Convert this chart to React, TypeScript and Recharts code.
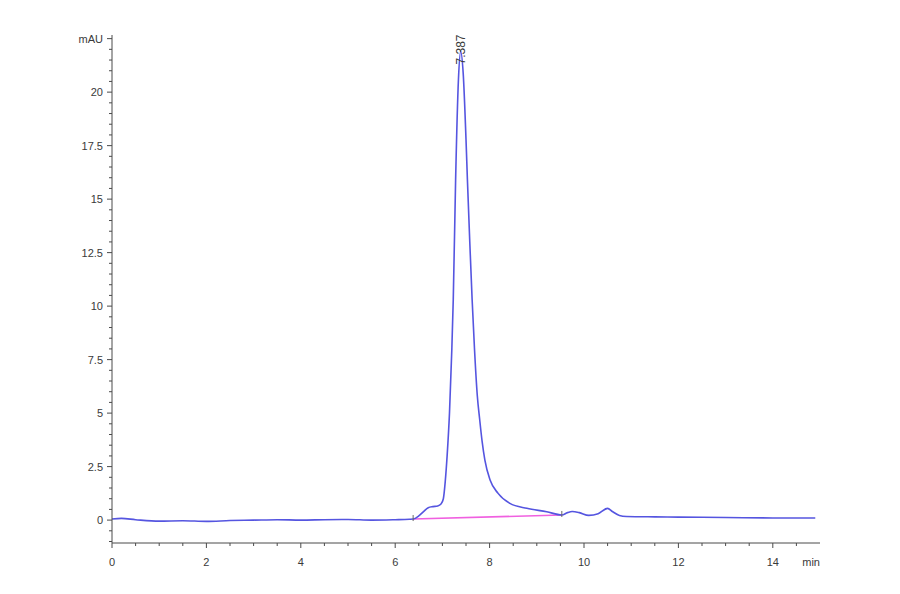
import React from 'react';
import { LineChart, Line, XAxis, YAxis, ReferenceDot } from 'recharts';

// Chromatogram signal (time in min, absorbance in mAU)
const signalTime = [
  0, 0.2, 0.5, 1.0, 1.5, 2.0, 2.5, 3.0, 3.5, 4.0, 4.5, 5.0, 5.5, 6.0, 6.3, 6.38,
  6.5, 6.6, 6.7, 6.8, 6.9, 6.97, 7.02, 7.06, 7.1, 7.15, 7.2, 7.23, 7.28, 7.34, 7.387,
  7.44, 7.5, 7.53, 7.58, 7.63, 7.68, 7.74, 7.79, 7.84, 7.9, 8.01, 8.18, 8.43,
  8.79, 9.21, 9.53, 9.65, 9.75, 9.9, 10.1, 10.3, 10.5, 10.6, 10.75, 10.9,
  11.5, 12.0, 13.0, 14.0, 14.9,
];
const signalMAU = [
  0.05, 0.08, 0.02, -0.05, -0.03, -0.06, -0.02, 0.0, 0.02, 0.0, 0.02, 0.03, 0.0, 0.02, 0.04, 0.05,
  0.2, 0.4, 0.58, 0.63, 0.66, 0.75, 1.0, 1.8, 3.0, 5.0, 8.0, 10.3, 15.9, 20.6, 21.9,
  20.9, 17.8, 15.9, 13.0, 10.3, 8.0, 5.8, 4.7, 3.7, 2.8, 1.87, 1.25, 0.78,
  0.55, 0.39, 0.24, 0.35, 0.4, 0.35, 0.22, 0.3, 0.55, 0.4, 0.22, 0.17,
  0.15, 0.14, 0.12, 0.1, 0.1,
];

// Integration baseline
const baselineTime = [6.38, 9.53];
const baselineMAU = [0.05, 0.24];

// Peak annotation
const peakTime = 7.387;
const peakMAU = 21.9;
const peakLabel = '7.387';

// Axes
const xMajorTicks = [0, 2, 4, 6, 8, 10, 12, 14];
const xUnitLabel = 'min';
const yMajorTicks = [0, 2.5, 5, 7.5, 10, 12.5, 15, 17.5, 20];
const yUnitLabel = 'mAU';
const yUnitTick = 22.5;

const signalData = signalTime.map((t, i) => ({ t, v: signalMAU[i] }));
const baselineData = baselineTime.map((t, i) => ({ t, b: baselineMAU[i] }));

const xTicks: number[] = [];
for (let k = 0; k <= 29; k++) xTicks.push(k * 0.5);
xTicks.push(15);
const yTicks: number[] = [];
for (let k = -2; k <= 45; k++) yTicks.push(k * 0.5);

const AXIS = '#4a4a4a';
const TEXT = '#3a3a3a';
const FONT = '"Liberation Sans", Arial, sans-serif';

const isMult = (v: number, step: number) => Math.abs(v / step - Math.round(v / step)) < 1e-6;

const XTick = (props: any) => {
  const { x, y, payload } = props;
  const v = payload.value;
  if (v === 15) {
    return (
      <text x={x} y={y + 23} textAnchor="end" fontSize={11} fill={TEXT} fontFamily={FONT}>
        {xUnitLabel}
      </text>
    );
  }
  const major = xMajorTicks.includes(v);
  return (
    <g>
      <line x1={x} x2={x} y1={y} y2={y + (major ? 5 : 3)} stroke={AXIS} strokeWidth={1} />
      {major && (
        <text x={x} y={y + 23} textAnchor="middle" fontSize={11} fill={TEXT} fontFamily={FONT}>
          {String(v)}
        </text>
      )}
    </g>
  );
};

const YTick = (props: any) => {
  const { x, y, payload } = props;
  const v = payload.value;
  const major = isMult(v, 2.5) && v >= 0;
  let label: string | null = null;
  if (v === yUnitTick) label = yUnitLabel;
  else if (yMajorTicks.includes(v)) label = String(v);
  return (
    <g>
      <line x1={x} x2={x - (major ? 5 : 3)} y1={y} y2={y} stroke={AXIS} strokeWidth={1} />
      {label && (
        <text x={x - 9} y={y + 4} textAnchor="end" fontSize={11} fill={TEXT} fontFamily={FONT}>
          {label}
        </text>
      )}
    </g>
  );
};

const PeakLabel = (p: any) => {
  const x = p.cx + 4;
  const y = p.cy + 13;
  return (
    <text
      x={x}
      y={y}
      transform={`rotate(-90 ${x} ${y})`}
      fontSize={12}
      fill={TEXT}
      fontFamily={FONT}
      textAnchor="start"
    >
      {peakLabel}
    </text>
  );
};

const Marker = (p: any) => (
  <line x1={p.cx} x2={p.cx} y1={p.cy - 4} y2={p.cy + 2} stroke="#666" strokeWidth={1} />
);

export default function App() {
  return (
    <div style={{ position: 'absolute', left: 0, top: 0, width: 900, height: 594, background: '#fff' }}>
      <LineChart width={900} height={594} margin={{ top: 35, right: 80, bottom: 50, left: 111 }}>
        <XAxis
          type="number"
          dataKey="t"
          domain={[0, 15]}
          ticks={xTicks}
          interval={0}
          height={1}
          tickSize={0}
          tickMargin={0}
          tickLine={false}
          axisLine={{ stroke: AXIS, strokeWidth: 1 }}
          tick={<XTick />}
          allowDataOverflow
        />
        <YAxis
          type="number"
          domain={[-1.07, 22.67]}
          ticks={yTicks}
          interval={0}
          width={1}
          tickSize={0}
          tickMargin={0}
          tickLine={false}
          axisLine={{ stroke: AXIS, strokeWidth: 1 }}
          tick={<YTick />}
          allowDataOverflow
        />
        <Line
          data={baselineData}
          dataKey="b"
          type="linear"
          stroke="#f060e0"
          strokeWidth={1.6}
          dot={false}
          isAnimationActive={false}
        />
        <Line
          data={signalData}
          dataKey="v"
          type="monotone"
          stroke="#5555e0"
          strokeWidth={1.6}
          dot={false}
          isAnimationActive={false}
        />
        <ReferenceDot x={baselineTime[0]} y={baselineMAU[0]} r={0} shape={<Marker />} />
        <ReferenceDot x={baselineTime[1]} y={baselineMAU[1]} r={0} shape={<Marker />} />
        <ReferenceDot x={peakTime} y={peakMAU} r={0} shape={<PeakLabel />} />
      </LineChart>
    </div>
  );
}
